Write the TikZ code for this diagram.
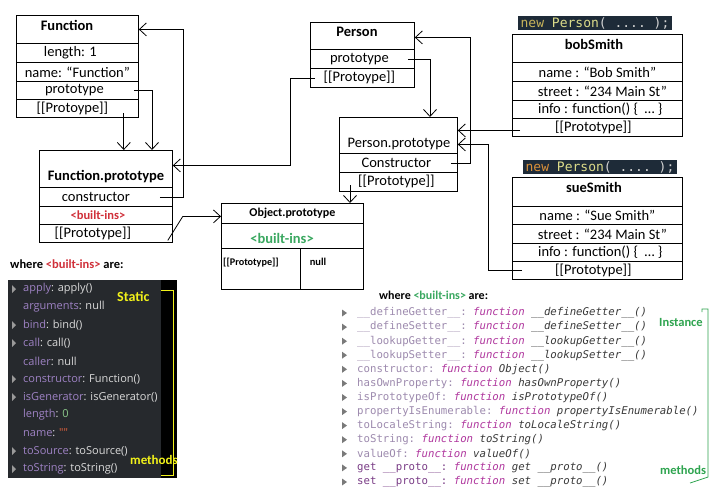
\documentclass[tikz,border=0pt]{standalone}
\usepackage{fontspec}
\setmainfont{Carlito}
\setmonofont{DejaVu Sans Mono}
\newfontfamily\panelfont{Open Sans}
\usetikzlibrary{arrows.meta,calc}
\definecolor{biRed}{HTML}{D0303A}
\definecolor{biGreen}{HTML}{3AA860}
\definecolor{bannerBg}{HTML}{1E2B38}
\definecolor{kwNewA}{HTML}{C8B45A}
\definecolor{kwNewB}{HTML}{D9903A}
\definecolor{fnYellow}{HTML}{DCDC8A}
\definecolor{punc}{HTML}{D4D4D4}
\definecolor{panelBg}{HTML}{26292D}
\definecolor{panelKey}{HTML}{9E82C4}
\definecolor{panelVal}{HTML}{DADADA}
\definecolor{panelNum}{HTML}{8CC98A}
\definecolor{panelStr}{HTML}{E0603C}
\definecolor{panelTri}{HTML}{9A9A9A}
\definecolor{statYellow}{HTML}{F2F21A}
\definecolor{listKey}{HTML}{9D8AAE}
\definecolor{listKw}{HTML}{B0379E}
\definecolor{listName}{HTML}{3A3A3A}
\definecolor{listProto}{HTML}{7A3C86}
\definecolor{listTri}{HTML}{7A7A7A}
\definecolor{instGreen}{HTML}{2EA44F}
\newcommand\lsh[1]{\hspace*{#1pt}}
\newcommand\fnpart[1]{\textcolor{listKw}{\itshape function} \textcolor{listName}{\itshape #1}}
\tikzset{
  cell/.style={draw=black, line width=0.8pt, anchor=north west, inner sep=0pt,
    font=\fontsize{14.5}{16}\selectfont},
  ttl/.style={inner sep=0pt, font=\bfseries\fontsize{14.5}{16}\selectfont},
  conn/.style={draw=black, line width=0.8pt,
    -{Straight Barb[length=7pt,width=13pt,line width=0.8pt]}},
  banner/.style={fill=bannerBg, text=punc, inner sep=0pt, minimum height=14pt,
    font=\ttfamily\fontsize{13}{14}\selectfont},
  pitem/.style={anchor=west, inner sep=0pt, text=panelVal,
    font=\panelfont\fontsize{11}{13}\selectfont},
  litem/.style={anchor=west, inner sep=0pt, text=listKey,
    font=\ttfamily\fontsize{10.7}{12}\selectfont},
}
\begin{document}
\begin{tikzpicture}[x=1pt,y=-1pt]
\useasboundingbox (0,0) rectangle (717,491);
\fill[white] (0,0) rectangle (717,491);

% ---------- Function ----------
\node[cell, minimum width=122pt, minimum height=28pt] (fnT) at (16,15) {};
\node[ttl] (fnTt) at (67,25) {Function};
\node[cell, minimum width=122pt, minimum height=19pt] (fnLen) at (16,43) {length: 1\lsh{14}};
\node[cell, minimum width=122pt, minimum height=19pt] (fnName) at (16,62) {name: “Function”};
\node[cell, minimum width=122pt, minimum height=18pt] (fnProt) at (16,81) {prototype\lsh{6}};
\node[cell, minimum width=122pt, minimum height=18pt] (fnPP) at (16,99) {[[Protoype]]\lsh{10}};

% ---------- Function.prototype ----------
\node[cell, minimum width=133pt, minimum height=37pt] (fpT) at (39,150) {};
\node[ttl] (fpTt) at (106,177) {Function.prototype};
\node[cell, minimum width=133pt, minimum height=19pt] (fpCons) at (39,187) {constructor\lsh{20}};
\node[cell, minimum width=133pt, minimum height=18pt, text=biRed,
  font=\bfseries\fontsize{12.5}{14}\selectfont] (fpBI) at (39,206) {<built-ins>\lsh{16}};
\node[cell, minimum width=133pt, minimum height=18pt] (fpPP) at (39,224) {[[Prototype]]\lsh{26}};

% ---------- Person ----------
\node[cell, minimum width=104pt, minimum height=27pt] (pT) at (310,22) {};
\node[ttl] (pTt) at (357,32) {Person};
\node[cell, minimum width=104pt, minimum height=19pt] (pProt) at (310,49) {prototype\lsh{6}};
\node[cell, minimum width=104pt, minimum height=19pt] (pPP) at (310,68) {[[Protoype]]\lsh{6}};

% ---------- Person.prototype ----------
\node[cell, minimum width=118pt, minimum height=36pt] (ppT) at (339,117) {};
\node[inner sep=0pt, font=\fontsize{14.5}{16}\selectfont] (ppTt) at (399,144) {Person.prototype};
\node[cell, minimum width=118pt, minimum height=19pt] (ppCons) at (339,153) {Constructor\lsh{4}};
\node[cell, minimum width=118pt, minimum height=19pt] (ppPP) at (339,172) {[[Prototype]]\lsh{4}};

% ---------- Object.prototype ----------
\node[cell, minimum width=142pt, minimum height=20pt,
  font=\bfseries\fontsize{12}{14}\selectfont] (opT) at (221,203) {Object.prototype};
\node[cell, minimum width=142pt, minimum height=25pt] (opBI) at (221,223) {};
\node[inner sep=0pt, text=biGreen, font=\bfseries\fontsize{14.5}{16}\selectfont] (opBIt) at (282,238) {<built-ins>};
\node[cell, minimum width=79pt, minimum height=41pt] (opPP) at (221,248) {};
\node[inner sep=0pt, font=\bfseries\fontsize{10.2}{12}\selectfont] (opPPt) at (251,263) {[[Prototype]]};
\node[cell, minimum width=63pt, minimum height=41pt] (opNull) at (300,248) {};
\node[inner sep=0pt, font=\bfseries\fontsize{10.5}{12}\selectfont] (opNullt) at (318,262) {null};

% ---------- bobSmith ----------
\node[banner, minimum width=154pt] (bobNew) at (595,23) {\textcolor{kwNewA}{new} \textcolor{fnYellow}{Person}( .... );};
\node[cell, minimum width=170pt, minimum height=28pt] (bT) at (512,34) {};
\node[ttl] (bTt) at (594,44) {bobSmith};
\node[cell, minimum width=170pt, minimum height=19pt] (bName) at (512,62) {name : “Bob Smith”};
\node[cell, minimum width=170pt, minimum height=19pt] (bStreet) at (512,81) {\lsh{10}street : “234 Main St”};
\node[cell, minimum width=170pt, minimum height=18pt] (bInfo) at (512,100) {\lsh{6}info : function() \{\ \ … \}};
\node[cell, minimum width=170pt, minimum height=18pt] (bPP) at (512,118) {[[Prototype]]\lsh{8}};

% ---------- sueSmith ----------
\node[banner, minimum width=154pt] (sueNew) at (600,167) {\textcolor{kwNewB}{new} \textcolor{fnYellow}{Person}( .... );};
\node[cell, minimum width=170pt, minimum height=29pt] (sT) at (512,177) {};
\node[ttl] (sTt) at (594,187) {sueSmith};
\node[cell, minimum width=170pt, minimum height=18pt] (sName) at (512,206) {name : “Sue Smith”};
\node[cell, minimum width=170pt, minimum height=19pt] (sStreet) at (512,224) {\lsh{10}street : “234 Main St”};
\node[cell, minimum width=170pt, minimum height=18pt] (sInfo) at (512,243) {\lsh{6}info : function() \{\ \ … \}};
\node[cell, minimum width=170pt, minimum height=18pt] (sPP) at (512,261) {[[Prototype]]\lsh{8}};

% ---------- connectors ----------
\coordinate (c1s) at ([xshift=-13pt]fpCons.east);
\draw[conn] (c1s) -| ([xshift=45pt]fnT.east) -- (fnT.east);
\coordinate (c2s) at ([xshift=-5pt]fnProt.east);
\draw[conn] (c2s) -| ([xshift=113pt]fpT.north west);
\coordinate (c3s) at ([xshift=-15pt,yshift=-5pt]fnPP.east);
\draw[conn] (c3s) -- (c3s |- fpT.north);
\coordinate (c4s) at ([xshift=5pt]pPP.west);
\draw[conn] (c4s) -- ++(-25,0) |- ([yshift=3.5pt]fpT.east);
\coordinate (c5s) at ([xshift=-5pt,yshift=-7pt]fpPP.east);
\draw[conn] (c5s) -- ++(15,-24) -- ([yshift=-3pt]opT.west);
\coordinate (c6s) at ([xshift=-7pt]pProt.east);
\draw[conn] (c6s) -| ([xshift=91pt]ppT.north west);
\coordinate (c7s) at ([xshift=-7pt]ppCons.east);
\draw[conn] (c7s) -- ++(20,0) |- ([yshift=-1.5pt]pT.east);
\coordinate (c8s) at ([xshift=11pt,yshift=-3.5pt]ppPP.west);
\draw[conn] (c8s) -- (c8s |- opT.north);
\coordinate (c9s) at ([xshift=8pt,yshift=-3pt]bPP.west);
\draw[conn] (c9s) -- (c9s -| ppT.east);
\coordinate (c10s) at ([xshift=10pt]sPP.west);
\draw[conn] (c10s) -- ++(-34,0) |- ([yshift=-9pt]ppT.east);

% ---------- left: Function built-ins ----------
\node[anchor=west, inner sep=0pt, font=\bfseries\fontsize{12.5}{14}\selectfont] (whereL) at (10,264)
  {where \textcolor{biRed}{<built-ins>} are:};
\fill[panelBg] (8,280) rectangle (161,478);
\fill[black] (161,280) rectangle (177,478);
\foreach \yy in {289,325,343,379,397,451,469}
  \fill[panelTri] (12,\yy-4) -- (16,\yy) -- (12,\yy+4) -- cycle;
\node[pitem] (pa1) at (23,289) {\textcolor{panelKey}{apply}: apply()};
\node[pitem] (pa2) at (23,307) {\textcolor{panelKey}{arguments}: null};
\node[pitem] (pa3) at (23,325) {\textcolor{panelKey}{bind}: bind()};
\node[pitem] (pa4) at (23,343) {\textcolor{panelKey}{call}: call()};
\node[pitem] (pa5) at (23,361) {\textcolor{panelKey}{caller}: null};
\node[pitem] (pa6) at (23,379) {\textcolor{panelKey}{constructor}: Function()};
\node[pitem] (pa7) at (23,397) {\textcolor{panelKey}{isGenerator}: isGenerator()};
\node[pitem] (pa8) at (23,415) {\textcolor{panelKey}{length}: \textcolor{panelNum}{0}};
\node[pitem] (pa9) at (23,433) {\textcolor{panelKey}{name}: \textcolor{panelStr}{""}};
\node[pitem] (pa10) at (23,451) {\textcolor{panelKey}{toSource}: toSource()};
\node[pitem] (pa11) at (23,469) {\textcolor{panelKey}{toString}: toString()};
\node[anchor=west, inner sep=0pt, text=statYellow, font=\bfseries\fontsize{14}{16}\selectfont] (statL) at (117,297) {Static};
\node[anchor=west, inner sep=0pt, text=statYellow, font=\bfseries\fontsize{13}{15}\selectfont] (methL) at (130,460) {methods};
\draw[statYellow, line width=0.8pt] (161,290) -- (173,290) -- (173,475) -- (161,475);

% ---------- right: Object built-ins ----------
\node[anchor=west, inner sep=0pt, font=\bfseries\fontsize{12}{14}\selectfont] (whereR) at (379,295)
  {where \textcolor{biGreen}{<built-ins>} are:};
\foreach \yy in {313,327.1,341.2,355.2,369.3,383.4,397.5,411.6,425.6,439.7,453.8,467.9,482}
  \fill[listTri] (342,\yy-3.5) -- (347,\yy) -- (342,\yy+3.5) -- cycle;
\node[litem] (li1) at (357,313) {\_\_defineGetter\_\_: \fnpart{\_\_defineGetter\_\_()}};
\node[litem] (li2) at (357,327.1) {\_\_defineSetter\_\_: \fnpart{\_\_defineSetter\_\_()}};
\node[litem] (li3) at (357,341.2) {\_\_lookupGetter\_\_: \fnpart{\_\_lookupGetter\_\_()}};
\node[litem] (li4) at (357,355.2) {\_\_lookupSetter\_\_: \fnpart{\_\_lookupSetter\_\_()}};
\node[litem] (li5) at (357,369.3) {constructor: \fnpart{Object()}};
\node[litem] (li6) at (357,383.4) {hasOwnProperty: \fnpart{hasOwnProperty()}};
\node[litem] (li7) at (357,397.5) {isPrototypeOf: \fnpart{isPrototypeOf()}};
\node[litem] (li8) at (357,411.6) {propertyIsEnumerable: \fnpart{propertyIsEnumerable()}};
\node[litem] (li9) at (357,425.6) {toLocaleString: \fnpart{toLocaleString()}};
\node[litem] (li10) at (357,439.7) {toString: \fnpart{toString()}};
\node[litem] (li11) at (357,453.8) {valueOf: \fnpart{valueOf()}};
\node[litem, text=listProto] (li12) at (357,467.9) {get \_\_proto\_\_: \fnpart{get \_\_proto\_\_()}};
\node[litem, text=listProto] (li13) at (357,482) {set \_\_proto\_\_: \fnpart{set \_\_proto\_\_()}};
\node[anchor=west, inner sep=0pt, text=instGreen, font=\bfseries\fontsize{12.5}{14}\selectfont] (instR) at (659,322) {Instance};
\node[anchor=west, inner sep=0pt, text=instGreen, font=\bfseries\fontsize{12.5}{14}\selectfont] (methR) at (660,470) {methods};
\draw[instGreen, line width=0.8pt] (702,312) -- (702,309) -- (708,309) -- (708,477) -- (690,483);
\end{tikzpicture}
\end{document}
